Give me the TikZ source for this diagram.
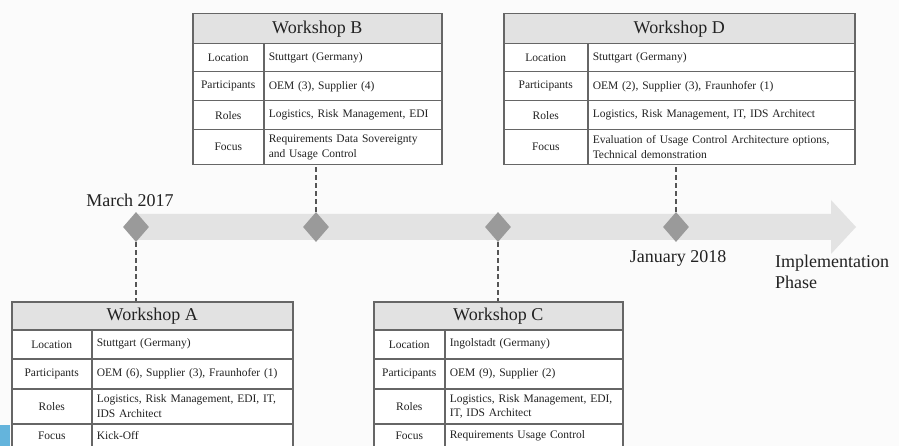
\documentclass[tikz,border=0pt]{standalone}
\usepackage{fontspec}
\setmainfont{Liberation Serif}
\usetikzlibrary{shapes.geometric}
\definecolor{bgc}{HTML}{FBFBFB}
\definecolor{bandc}{HTML}{E3E3E3}
\definecolor{diac}{HTML}{9A9A9A}
\definecolor{tblc}{HTML}{666666}
\definecolor{hdrc}{HTML}{E2E2E2}
\definecolor{txtc}{HTML}{222222}
\definecolor{conc}{HTML}{555555}
\definecolor{bluec}{HTML}{64B4DC}
\tikzset{
  tbl/.style={draw=tblc, line width=1.5pt, inner sep=0pt, anchor=north west, text=txtc},
  hdr/.style={tbl, fill=hdrc, font=\fontsize{18}{20}\selectfont},
  lbl/.style={tbl, fill=white, align=center, font=\fontsize{11.5}{14.5}\selectfont},
  val/.style={tbl, fill=white, align=left, inner xsep=5pt, font=\fontsize{11.5}{14.5}\selectfont},
  dia/.style={diamond, fill=diac, inner sep=0pt, minimum width=26pt, minimum height=30pt},
  conn/.style={draw=conc, line width=1.8pt, dash pattern=on 5pt off 3pt},
  big/.style={text=txtc, font=\fontsize{18}{21}\selectfont, inner sep=0pt}
}
\begin{document}
\begin{tikzpicture}[x=1pt,y=-1pt]
\useasboundingbox (0,0) rectangle (899,446);
\clip (0,0) rectangle (899,446);
\fill[bgc] (0,0) rectangle (899,446);

% timeline band with arrow head
\fill[bandc] (136,214) -- (831,214) -- (831,200) -- (856,227) -- (831,254) -- (831,240) -- (136,240) -- cycle;

% diamonds
\node[dia] (dA) at (136,227) {};
\node[dia] (dB) at (316,227) {};
\node[dia] (dC) at (498,227) {};
\node[dia] (dD) at (676,227) {};

% labels on timeline
\node[big] (mar) at (130,200) {March 2017};
\node[big] (jan) at (678,258) {January 2018};
\node[big, anchor=west, align=left] (impl) at (775,272) {Implementation\\Phase};

% ---------- Workshop B ----------
\node[hdr, minimum width=249pt, minimum height=30pt] (bH) at (192,13) {Workshop B};
\node[lbl, minimum width=71pt, minimum height=28pt] (bL1) at (192,43) {Location};
\node[val, text width=168pt, minimum height=28pt] (bV1) at (263,43) {Stuttgart (Germany)};
\node[lbl, minimum width=71pt, minimum height=29pt] (bL2) at (192,71) {Participants};
\node[val, text width=168pt, minimum height=29pt] (bV2) at (263,71) {OEM (3), Supplier (4)};
\node[lbl, minimum width=71pt, minimum height=29pt] (bL3) at (192,100) {Roles};
\node[val, text width=168pt, minimum height=29pt] (bV3) at (263,100) {Logistics, Risk Management, EDI};
\node[lbl, minimum width=71pt, minimum height=35pt] (bL4) at (192,129) {Focus};
\node[val, text width=168pt, minimum height=35pt] (bV4) at (263,129) {Requirements Data Sovereignty\\and Usage Control};

% ---------- Workshop D ----------
\node[hdr, minimum width=351pt, minimum height=30pt] (dH) at (503,13) {Workshop D};
\node[lbl, minimum width=84pt, minimum height=28pt] (dL1) at (503,43) {Location};
\node[val, text width=257pt, minimum height=28pt] (dV1) at (587,43) {Stuttgart (Germany)};
\node[lbl, minimum width=84pt, minimum height=29pt] (dL2) at (503,71) {Participants};
\node[val, text width=257pt, minimum height=29pt] (dV2) at (587,71) {OEM (2), Supplier (3), Fraunhofer (1)};
\node[lbl, minimum width=84pt, minimum height=29pt] (dL3) at (503,100) {Roles};
\node[val, text width=257pt, minimum height=29pt] (dV3) at (587,100) {Logistics, Risk Management, IT, IDS Architect};
\node[lbl, minimum width=84pt, minimum height=35pt] (dL4) at (503,129) {Focus};
\node[val, text width=257pt, minimum height=35pt] (dV4) at (587,129) {Evaluation of Usage Control Architecture options,\\Technical demonstration};

% ---------- Workshop A ----------
\node[hdr, minimum width=281pt, minimum height=28pt] (aH) at (11,301) {Workshop A};
\node[lbl, minimum width=80pt, minimum height=29pt] (aL1) at (11,329) {Location};
\node[val, text width=191pt, minimum height=29pt] (aV1) at (91,329) {Stuttgart (Germany)};
\node[lbl, minimum width=80pt, minimum height=30pt] (aL2) at (11,358) {Participants};
\node[val, text width=191pt, minimum height=30pt] (aV2) at (91,358) {OEM (6), Supplier (3), Fraunhofer (1)};
\node[lbl, minimum width=80pt, minimum height=35pt] (aL3) at (11,388) {Roles};
\node[val, text width=191pt, minimum height=35pt] (aV3) at (91,388) {Logistics, Risk Management, EDI, IT,\\IDS Architect};
\node[lbl, minimum width=80pt, minimum height=24pt] (aL4) at (11,423) {\raisebox{0pt}{Focus}};
\node[val, text width=191pt, minimum height=24pt] (aV4) at (91,423) {Kick-Off};

% ---------- Workshop C ----------
\node[hdr, minimum width=249pt, minimum height=28pt] (cH) at (373,301) {Workshop C};
\node[lbl, minimum width=71pt, minimum height=29pt] (cL1) at (373,329) {Location};
\node[val, text width=168pt, minimum height=29pt] (cV1) at (444,329) {Ingolstadt (Germany)};
\node[lbl, minimum width=71pt, minimum height=30pt] (cL2) at (373,358) {Participants};
\node[val, text width=168pt, minimum height=30pt] (cV2) at (444,358) {OEM (9), Supplier (2)};
\node[lbl, minimum width=71pt, minimum height=35pt] (cL3) at (373,388) {Roles};
\node[val, text width=168pt, minimum height=35pt] (cV3) at (444,388) {Logistics, Risk Management, EDI,\\IT, IDS Architect};
\node[lbl, minimum width=71pt, minimum height=24pt] (cL4) at (373,423) {Focus};
\node[val, text width=168pt, minimum height=24pt] (cV4) at (444,423) {Requirements Usage Control};

% hide bottom borders of the cut-off Focus rows (they run past the page edge)
\fill[bgc] (0,446.2) rectangle (899,450);

% connectors
\draw[conn] (dA.south) -- (dA.south |- aH.north);
\draw[conn] (dB.north) -- (dB.north |- bL4.south);
\draw[conn] (dC.south) -- (dC.south |- cH.north);
\draw[conn] (dD.north) -- (dD.north |- dL4.south);

% blue corner
\fill[bluec] (0,425) rectangle (10,446);
\end{tikzpicture}
\end{document}
